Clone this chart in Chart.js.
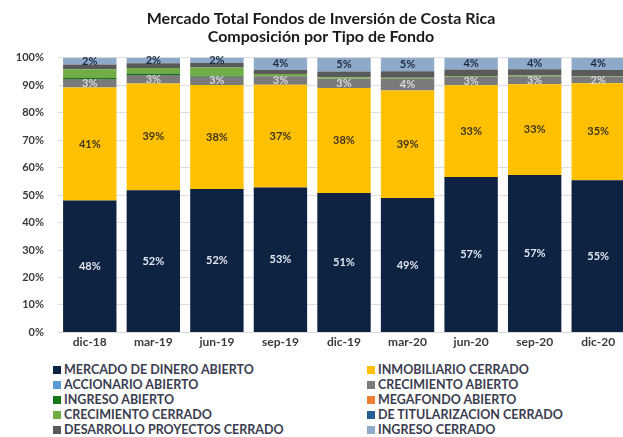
<!DOCTYPE html>
<html>
<head>
<meta charset="utf-8">
<script src="https://cdn.jsdelivr.net/npm/chart.js@4.4.1/dist/chart.umd.min.js"></script>
<style>
  html,body{margin:0;padding:0;background:#fff;overflow:hidden;width:623px;height:437px;}
  body{position:relative;}
  #wrap{position:absolute;left:12px;top:0;width:618px;height:353px;}
  #legend{position:absolute;left:0;top:362px;width:623px;font:bold 12.5px Lato,"Open Sans",sans-serif;color:#3a3d4f;}
  #legend .it{position:absolute;height:15px;line-height:15px;white-space:nowrap;}
  #legend .bx{display:inline-block;width:8px;height:8px;margin-right:3px;}
</style>
</head>
<body>
<div id="wrap"><canvas id="c"></canvas></div>
<div id="legend"></div>
<script>
/* ===== 資料 ===== */
const LABELS = ['dic-18','mar-19','jun-19','sep-19','dic-19','mar-20','jun-20','sep-20','dic-20'];
const DINERO_AB   = [48.0, 51.8, 52.2, 52.8, 50.8, 48.9, 56.6, 57.3, 55.4];
const INMOB_CE    = [41.2, 38.8, 37.9, 37.4, 38.2, 39.2, 33.4, 33.1, 35.3];
const ACCION_AB   = [0, 0, 0, 0, 0, 0, 0, 0, 0];
const CRECIM_AB   = [3.1, 3.1, 3.0, 3.1, 3.4, 4.3, 3.0, 2.9, 2.4];
const INGRESO_AB  = [0.3, 0.6, 0.4, 0, 0, 0, 0, 0, 0];
const MEGAF_AB    = [0, 0, 0, 0, 0, 0, 0, 0, 0];
const CRECIM_CE   = [3.2, 2.0, 3.0, 0.8, 0.5, 0.3, 0.3, 0.3, 0.2];
const TITUL_CE    = [0, 0, 0, 0, 0, 0, 0, 0, 0];
const DESARR_CE   = [1.8, 1.7, 1.6, 1.5, 2.1, 2.4, 2.4, 2.2, 2.3];
const INGRESO_CE  = [2.4, 2.0, 1.9, 4.4, 5.0, 4.9, 4.3, 4.2, 4.4];
const Y_TICKS = [0,10,20,30,40,50,60,70,80,90,100];

const FONT = 'Lato, "Open Sans", sans-serif';
const $ = s => document.querySelector(s);

// label: null = 不顯示數值標籤
const SERIES = [
  {name:'MERCADO DE DINERO ABIERTO',   data:DINERO_AB,  color:'#0e2241', label:'#dfe6ef'},
  {name:'INMOBILIARIO CERRADO',        data:INMOB_CE,   color:'#ffc000', label:'#3d3520'},
  {name:'ACCIONARIO ABIERTO',          data:ACCION_AB,  color:'#5b9bd5', label:null},
  {name:'CRECIMIENTO ABIERTO',         data:CRECIM_AB,  color:'#7a7a7a', label:'#d8d8d8'},
  {name:'INGRESO ABIERTO',             data:INGRESO_AB, color:'#17761a', label:null},
  {name:'MEGAFONDO ABIERTO',           data:MEGAF_AB,   color:'#ed7d31', label:null},
  {name:'CRECIMIENTO CERRADO',         data:CRECIM_CE,  color:'#70ad47', label:null},
  {name:'DE TITULARIZACION CERRADO',   data:TITUL_CE,   color:'#255e91', label:null},
  {name:'DESARROLLO PROYECTOS CERRADO',data:DESARR_CE,  color:'#5a5a5a', label:null},
  {name:'INGRESO CERRADO',             data:INGRESO_CE, color:'#8eaacb', label:'#1e2a3e'}
];

/* 區段中央的百分比標籤 */
const segLabels = {
  id:'segLabels',
  afterDatasetsDraw(chart){
    const ctx = chart.ctx;
    ctx.save();
    ctx.font = 'bold 11px ' + FONT;
    ctx.textAlign = 'center';
    ctx.textBaseline = 'middle';
    chart.data.datasets.forEach((ds,i)=>{
      if(!ds.labelColor) return;
      chart.getDatasetMeta(i).data.forEach((el,j)=>{
        const v = ds.data[j];
        if(!v) return;
        const p = el.getCenterPoint();
        ctx.fillStyle = ds.labelColor;
        ctx.fillText(Math.round(v)+'%', p.x, p.y);
      });
    });
    ctx.restore();
  }
};

const chart = new Chart($('#c'),{
  type:'bar',
  data:{
    labels:LABELS,
    datasets:SERIES.map(s=>({
      label:s.name, data:s.data, backgroundColor:s.color, labelColor:s.label,
      borderWidth:0, categoryPercentage:1, barPercentage:0.84
    }))
  },
  options:{
    responsive:true, maintainAspectRatio:false, animation:false,
    layout:{padding:0},
    plugins:{
      legend:{display:false},
      tooltip:{enabled:false},
      title:{
        display:true,
        text:['Mercado Total Fondos de Inversión de Costa Rica','Composición por Tipo de Fondo'],
        color:'#1a1a1a',
        font:{family:FONT,size:16,weight:'bold',lineHeight:1.1},
        padding:{top:10,bottom:12.6}
      }
    },
    scales:{
      x:{
        stacked:true,
        grid:{display:false,tickLength:3},
        border:{display:true,color:'#d9d9d9'},
        ticks:{color:'#3a3a3a',font:{family:FONT,size:12,weight:'bold'},padding:0}
      },
      y:{
        stacked:true, min:0, max:100,
        afterBuildTicks:s=>{ s.ticks = Y_TICKS.map(v=>({value:v})); },
        afterFit:s=>{ s.width = 46; },
        grid:{color:'#dedede',drawTicks:false},
        border:{display:false},
        ticks:{color:'#3a3a3a',font:{family:FONT,size:11,weight:'bold'},padding:14,callback:v=>v+'%'}
      }
    }
  },
  plugins:[segLabels]
});

/* 兩欄圖例（依資料集順序逐列排） */
const box = $('#legend');
SERIES.forEach((s,i)=>{
  const d = document.createElement('div');
  d.className = 'it';
  d.style.left = (i%2 ? 367 : 53) + 'px';
  d.style.top = (Math.floor(i/2)*15) + 'px';
  d.innerHTML = `<span class="bx" style="background:${s.color}"></span>${s.name}`;
  box.appendChild(d);
});
</script>
</body>
</html>
